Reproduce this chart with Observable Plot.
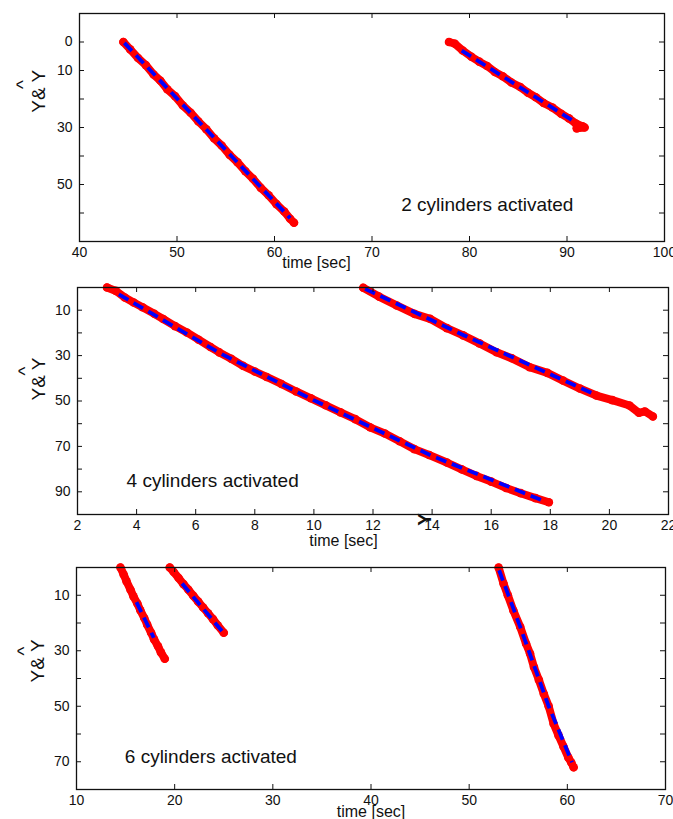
<!DOCTYPE html>
<html><head><meta charset="utf-8">
<script src="https://cdn.jsdelivr.net/npm/d3@7"></script>
<script src="https://cdn.jsdelivr.net/npm/@observablehq/plot@0.6"></script>
<style>
body{margin:0;background:#fff;}
#wrap{position:relative;width:673px;height:819px;overflow:hidden;background:#fff;}
.panel{position:absolute;left:0;}
</style></head><body><div id="wrap"></div>
<script>
// ---------- Panel 1: 2 cylinders ----------
const p1aT = [44.5,45.2,46.0,46.8,47.6,48.3,49.0,49.8,50.6,51.4,52.2,53.0,53.8,54.6,55.4,56.2,57.0,57.8,58.6,59.4,60.2,61.0,61.6,62.0];
const p1aY = [0.0,2.6,5.6,8.1,11.4,13.6,16.6,19.0,22.3,24.8,27.9,30.6,33.8,36.4,39.6,42.2,45.3,48.0,51.2,53.8,56.9,59.5,62.0,63.4];
const p1bT = [77.9,78.5,79.3,80.2,81.0,81.8,82.6,83.4,84.3,85.2,86.0,86.8,87.6,88.5,89.4,90.2,90.9,91.6,91.8,91.0];
const p1bY = [0.0,0.6,3.0,5.2,6.9,8.4,10.5,12.0,14.2,15.8,17.8,19.4,21.4,23.0,25.2,26.8,28.6,29.6,30.0,30.3];
const b1aT = [44.6,61.6];
const b1aY = [0.3,61.8];
const b1bT = [79.2,90.6];
const b1bY = [3.0,27.6];
const p1XTicks = [50,60,70,80,90];
const p1XLabels = [40,50,60,70,80,90,100];
const p1YTicks = [0,10,20,30,40,50,60];
const p1YLabels = [0,10,30,50];

// ---------- Panel 2: 4 cylinders ----------
const p2aT = [3.0,3.3,3.6,3.9,4.2,4.6,4.9,5.3,5.7,6.1,6.5,6.8,7.2,7.6,8.0,8.4,8.9,9.4,9.9,10.4,10.9,11.4,11.9,12.4,12.9,13.4,13.9,14.5,15.0,15.5,16.0,16.5,17.0,17.5,17.95];
const p2aY = [0.0,1.5,4.4,6.6,8.7,11.6,13.9,17.0,19.8,23.0,26.2,28.6,31.4,34.5,37.0,39.4,42.5,45.8,48.8,51.9,55.0,58.0,61.6,64.3,67.7,71.2,73.8,77.1,80.1,83.0,85.5,88.3,90.6,92.8,94.6];
const p2bT = [11.67,12.2,12.8,13.4,13.93,14.5,15.05,15.6,16.18,16.7,17.3,17.9,18.43,19.0,19.56,20.1,20.68,21.0,21.2,21.47];
const p2bY = [0.1,4.0,7.9,11.6,13.8,17.9,21.1,24.6,28.5,31.2,35.1,37.6,41.0,44.5,47.6,49.6,52.0,55.2,54.6,56.8];
const b2aT = [3.4,6.8,10.0,14.0,17.7];
const b2aY = [3.0,28.8,49.7,74.2,93.6];
const b2bT = [11.73,15.05,19.56];
const b2bY = [0.6,20.9,47.4];
const p2XTicks = [4,6,8,10,12,14,16,18,20];
const p2XLabels = [2,4,6,8,10,12,14,16,18,20,22];
const p2YTicks = [10,20,30,40,50,60,70,80,90];
const p2YLabels = [10,30,50,70,90];

// ---------- Panel 3: 6 cylinders ----------
const p3aT = [14.48,14.8,15.1,15.5,15.8,16.2,16.5,16.9,17.2,17.6,17.9,18.3,18.6,18.99];
const p3aY = [0.0,2.5,5.0,8.0,10.4,13.0,15.4,18.2,20.6,23.5,25.9,28.4,30.6,32.9];
const p3bT = [19.5,19.9,20.4,20.9,21.4,21.9,22.4,22.9,23.4,23.9,24.4,25.0];
const p3bY = [0.0,1.6,3.8,6.0,8.0,10.2,12.3,14.4,16.5,18.6,20.9,23.5];
const p3cT = [53.0,53.5,53.94,54.5,55.2,55.8,56.2,56.6,57.1,57.6,58.1,58.6,59.1,59.6,60.1,60.4,60.64];
const p3cY = [0.0,5.8,10.0,15.5,21.4,27.5,31.0,35.9,40.5,45.5,50.0,56.3,60.5,64.5,68.5,70.3,72.0];
const b3aT = [16.11,17.87];
const b3aY = [12.5,25.3];
const b3bT = [20.76,24.84];
const b3bY = [5.8,23.0];
const b3cT = [53.05,55.2,58.1,60.48];
const b3cY = [1.0,21.4,50.0,70.2];
const p3XTicks = [20,30,40,50,60];
const p3XLabels = [10,20,30,40,50,60,70];
const p3YTicks = [10,20,30,40,50,60,70];
const p3YLabels = [10,30,50,70];

// annotation texts
const notes = ["2 cylinders activated","4 cylinders activated","6 cylinders activated"];
const yLabel = "Y& Y";
const xLabel = "time [sec]";

const FONT = "'Liberation Sans', Arial, Helvetica, sans-serif";
const toRows = (T, Y) => T.map((t, i) => ({t, y: Y[i]}));

function panel(cfg) {
  const ph = cfg.h - cfg.mt - cfg.mb;
  const marks = [];
  for (const [T, Y] of cfg.red) {
    const rows = toRows(T, Y);
    marks.push(Plot.line(rows, {x: "t", y: "y", stroke: "#ff0000", strokeWidth: 8, strokeLinecap: "round", strokeLinejoin: "round"}));
    marks.push(Plot.dot(rows, {x: "t", y: "y", r: 4.3, fill: "#ff0000", stroke: "none"}));
  }
  for (const [T, Y] of cfg.blue) {
    marks.push(Plot.line(toRows(T, Y), {x: "t", y: "y", stroke: "#0000ff", strokeWidth: 3.8, strokeDasharray: "11,6", strokeLinecap: "butt"}));
  }
  marks.push(Plot.frame({stroke: "#111", strokeWidth: 1.3}));
  marks.push(Plot.tickX(cfg.xTicks, {x: d => d, insetBottom: ph - 5, stroke: "#111"}));
  marks.push(Plot.tickX(cfg.xTicks, {x: d => d, insetTop: ph - 5, stroke: "#111"}));
  marks.push(Plot.tickY(cfg.yTicks, {y: d => d, insetRight: cfg.pw - 5, stroke: "#111"}));
  marks.push(Plot.tickY(cfg.yTicks, {y: d => d, insetLeft: cfg.pw - 5, stroke: "#111"}));
  marks.push(Plot.axisX({ticks: cfg.xLabels, tickSize: 0, tickPadding: 6, label: null, fontSize: 14}));
  marks.push(Plot.axisY({ticks: cfg.yLabels, tickSize: 0, tickPadding: 7, label: null, fontSize: 14}));
  marks.push(Plot.text([cfg.note], {x: d => d.t, y: d => d.y, text: d => d.s, textAnchor: "start", fontSize: 19, fill: "#111"}));
  marks.push(Plot.text([cfg.xlab], {x: d => d.t, frameAnchor: "bottom", dy: cfg.xlabDy, text: () => xLabel, fontSize: 16, fill: "#111"}));
  marks.push(Plot.text([cfg.ylab], {y: d => d.y, frameAnchor: "left", dx: cfg.ylabDx, rotate: -90, text: () => yLabel, fontSize: 19, fill: "#111"}));
  marks.push(Plot.text([cfg.hat], {y: d => d.y, frameAnchor: "left", dx: cfg.hatDx, rotate: -90, text: () => "^", fontSize: 19, fill: "#111"}));
  if (cfg.extra) marks.push(cfg.extra);
  const svg = Plot.plot({
    width: 673, height: cfg.h,
    marginTop: cfg.mt, marginBottom: cfg.mb, marginLeft: cfg.ml, marginRight: cfg.mr,
    x: {domain: cfg.xDomain},
    y: {domain: cfg.yDomain, reverse: true},
    style: {fontFamily: FONT, fontSize: "14px", color: "#111", background: "transparent", overflow: "visible"},
    marks
  });
  const div = document.createElement("div");
  div.className = "panel";
  div.style.top = cfg.top + "px";
  div.appendChild(svg);
  document.getElementById("wrap").appendChild(div);
}

panel({
  top: 0, h: 275, mt: 13, mb: 34, ml: 79, mr: 9, pw: 673 - 79 - 9,
  xDomain: [40, 100], yDomain: [-10, 70],
  red: [[p1aT, p1aY], [p1bT, p1bY]],
  blue: [[b1aT, b1aY], [b1bT, b1bY]],
  xTicks: p1XTicks, xLabels: p1XLabels, yTicks: p1YTicks, yLabels: p1YLabels,
  note: {t: 73.0, y: 57.3, s: notes[0]},
  xlab: {t: 64.3}, xlabDy: 26,
  ylab: {y: 24.8}, ylabDx: -41,
  hat: {y: 16.5}, hatDx: -57
});

panel({
  top: 275, h: 280, mt: 12, mb: 41, ml: 77, mr: 5, pw: 673 - 77 - 5,
  xDomain: [2, 22], yDomain: [0, 100],
  red: [[p2aT, p2aY], [p2bT, p2bY]],
  blue: [[b2aT, b2aY], [b2bT, b2bY]],
  xTicks: p2XTicks, xLabels: p2XLabels, yTicks: p2YTicks, yLabels: p2YLabels,
  note: {t: 3.66, y: 85.0, s: notes[1]},
  xlab: {t: 11.0}, xlabDy: 31,
  ylab: {y: 49.8}, ylabDx: -39,
  hat: {y: 38.8}, hatDx: -53,
  extra: Plot.text([{t: 13.95}], {x: "t", frameAnchor: "bottom", dy: 5, rotate: -90, text: () => "Y", fontSize: 19, fontWeight: "bold", fill: "#111"})
});

panel({
  top: 555, h: 264, mt: 12, mb: 30, ml: 76, mr: 8, pw: 673 - 76 - 8,
  xDomain: [10, 70], yDomain: [0, 80],
  red: [[p3aT, p3aY], [p3bT, p3bY], [p3cT, p3cY]],
  blue: [[b3aT, b3aY], [b3bT, b3bY], [b3cT, b3cY]],
  xTicks: p3XTicks, xLabels: p3XLabels, yTicks: p3YTicks, yLabels: p3YLabels,
  note: {t: 14.92, y: 68.4, s: notes[2]},
  xlab: {t: 40}, xlabDy: 27,
  ylab: {y: 41.4}, ylabDx: -39,
  hat: {y: 31.7}, hatDx: -53
});
</script>
</body></html>
